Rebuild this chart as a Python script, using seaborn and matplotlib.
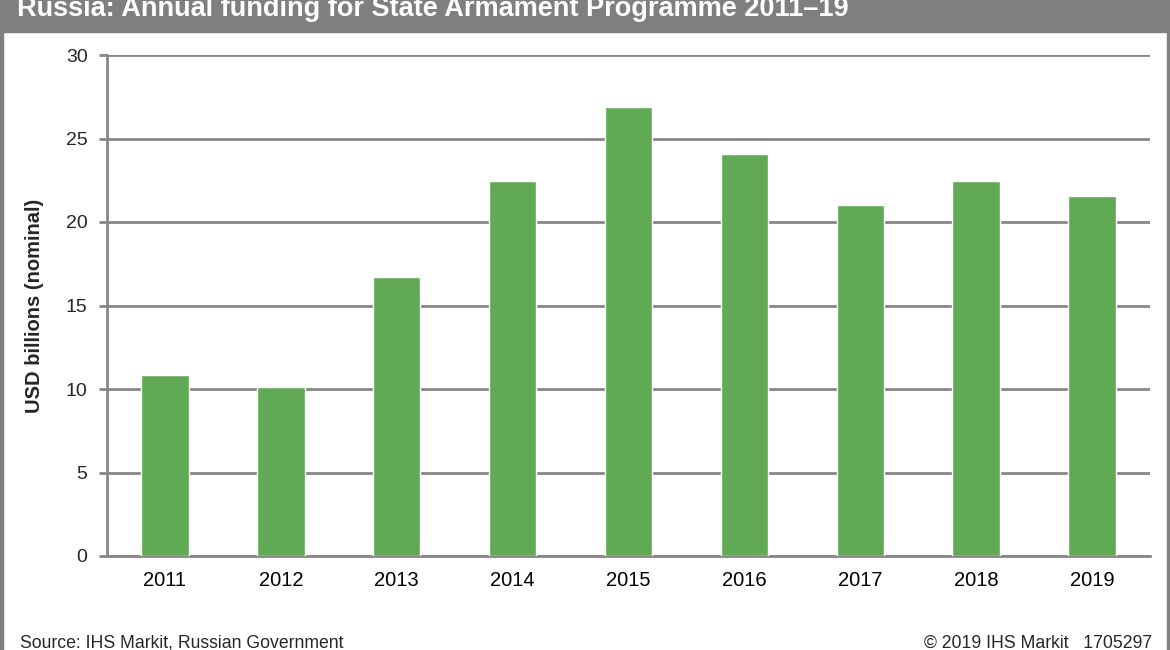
import numpy as np
import matplotlib
matplotlib.use("Agg")
import matplotlib.pyplot as plt
import pandas as pd
import seaborn as sns
from matplotlib.patches import Rectangle

years = ["2011", "2012", "2013", "2014", "2015", "2016", "2017", "2018", "2019"]
funding = [10.85, 10.1, 16.7, 22.45, 26.9, 24.05, 21.0, 22.45, 21.55]

title = "Russia: Annual funding for State Armament Programme 2011\u201319"
ylabel = "USD billions (nominal)"
source = "Source: IHS Markit, Russian Government"
credit = "\u00a9 2019 IHS Markit   1705297"

sns.set_style("white")
plt.rcParams["font.family"] = ["Liberation Sans", "DejaVu Sans"]

df = pd.DataFrame({"year": years, "funding": funding})

fig = plt.figure(figsize=(11.7, 6.5), dpi=100)

# grey frame and title bar
frame = "#7f7f7f"
fig.patches.append(Rectangle((0, 1 - 32 / 650), 1, 32 / 650, transform=fig.transFigure,
                             color=frame, zorder=0))
fig.patches.append(Rectangle((0, 0), 3 / 1170, 1, transform=fig.transFigure, color=frame, zorder=0))
fig.patches.append(Rectangle((1 - 3 / 1170, 0), 3 / 1170, 1, transform=fig.transFigure,
                             color=frame, zorder=0))
fig.text(17 / 1170, 1 - 16 / 650, title, color="white", fontsize=19.5, fontweight="bold",
         va="baseline", ha="left")

ax = fig.add_axes([107 / 1170, 1 - 556 / 650, (1150 - 107) / 1170, (556 - 55) / 650])
sns.barplot(data=df, x="year", y="funding", color="#62a955", saturation=1, width=0.41, ax=ax, zorder=3)

ax.set_ylim(0, 30)
ax.set_xlim(-0.5, len(years) - 0.5)
ax.set_yticks(np.arange(0, 31, 5))
ax.yaxis.grid(True, color="#878787", lw=2)
ax.set_axisbelow(True)
for s in ["top", "right"]:
    ax.spines[s].set_visible(False)
for s in ["left", "bottom"]:
    ax.spines[s].set_color("#878787")
    ax.spines[s].set_linewidth(2)

ax.set_xticks(np.arange(-0.5, len(years)), minor=True)
ax.tick_params(axis="x", which="major", length=0, labelsize=14.5, pad=11, colors="black")
ax.tick_params(axis="x", which="minor", length=6, width=2, color="#878787")
ax.tick_params(axis="y", length=6, width=2, color="#878787", labelsize=14, pad=8, left=True)
ax.set_xlabel("")
ax.set_ylabel(ylabel, fontsize=14.5, fontweight="bold", labelpad=16)

fig.text(20 / 1170, 1 - 648 / 650, source, fontsize=12.7, va="baseline", ha="left")
fig.text(1152 / 1170, 1 - 648 / 650, credit, fontsize=12.7, va="baseline", ha="right")

fig.savefig("out.png", dpi=100)
